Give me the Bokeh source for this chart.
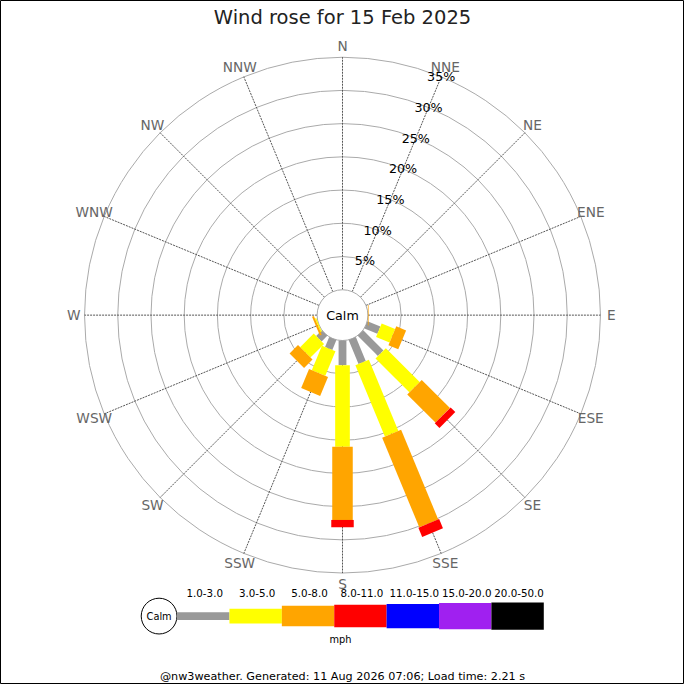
import math
from bokeh.plotting import figure
from bokeh.models import Range1d
from bokeh.core.properties import value
from bokeh.embed import file_html
from bokeh.resources import INLINE

# ---------------- data ----------------
title_text = "Wind rose for 15 Feb 2025"
directions = ["N", "NNE", "NE", "ENE", "E", "ESE", "SE", "SSE",
              "S", "SSW", "SW", "WSW", "W", "WNW", "NW", "NNW"]
speed_bins = ["1.0-3.0", "3.0-5.0", "5.0-8.0", "8.0-11.0",
              "11.0-15.0", "15.0-20.0", "20.0-50.0"]
# percentage of time per direction for each speed bin (mph)
pct_1_3 = [0, 0, 0, 0, 0, 2.1, 4.3, 3.9, 3.7, 1.6, 1.2, 0.0, 0, 0, 0, 0]
pct_3_5 = [0, 0, 0, 0, 0, 2.2, 7.2, 11.6, 12.3, 4.0, 2.9, 0.2, 0, 0, 0, 0]
pct_5_8 = [0, 0, 0, 0, 0.1, 1.6, 6.0, 14.6, 11.0, 3.1, 1.8, 0.3, 0, 0, 0, 0]
pct_8_11 = [0, 0, 0, 0, 0, 0, 1.0, 1.5, 1.1, 0, 0, 0, 0, 0, 0, 0]
pct_11_15 = [0] * 16
pct_15_20 = [0] * 16
pct_20_50 = [0] * 16
ring_ticks = [5, 10, 15, 20, 25, 30, 35]
ring_labels = ["5%", "10%", "15%", "20%", "25%", "30%", "35%"]
unit_label = "mph"
calm_label = "Calm"
footer_text = "@nw3weather. Generated: 11 Aug 2026 07:06; Load time: 2.21 s"

series = [pct_1_3, pct_3_5, pct_5_8, pct_8_11, pct_11_15, pct_15_20, pct_20_50]

# ---------------- style ----------------
colors = ["#999999", "#ffff00", "#ffa500", "#ff0000", "#0000ff", "#a020f0", "#000000"]
bar_widths = [8, 15, 21, 23, 25, 27, 28]
FONT = value("DejaVu Sans")
W = H = 684
S = W / 700.0

CX, CY = 350.0, 700.0 - 322.0
R0 = 26.0          # calm circle radius
K = 34.0 / 5.0     # pixels per percent
RMAX = R0 + K * ring_ticks[-1]


def fs(px):
    return value("%.1fpx" % (px * S))


p = figure(width=W, height=H, x_range=Range1d(0, 700), y_range=Range1d(0, 700),
           output_backend="svg", toolbar_location=None,
           x_axis_location=None, y_axis_location=None, min_border=0)
p.xgrid.visible = False
p.ygrid.visible = False
p.outline_line_color = "black"
p.outline_line_width = 1
p.background_fill_color = "white"
p.border_fill_color = "white"

# rings
p.circle(x=[CX] * len(ring_ticks), y=[CY] * len(ring_ticks),
         radius=[R0 + K * t for t in ring_ticks],
         fill_color=None, line_color="#aaaaaa", line_width=1)

# spokes
angs = [math.radians(22.5 * i) for i in range(len(directions))]
p.segment(x0=[CX + R0 * math.sin(a) for a in angs], y0=[CY + R0 * math.cos(a) for a in angs],
          x1=[CX + RMAX * math.sin(a) for a in angs], y1=[CY + RMAX * math.cos(a) for a in angs],
          line_color="#555555", line_width=1, line_dash="2 1")

# calm circle
p.circle(x=[CX], y=[CY], radius=R0, fill_color="white", line_color="#aaaaaa", line_width=1)
p.text(x=[CX], y=[CY], text=[calm_label], text_font=FONT, text_font_size=fs(13),
       text_align="center", text_baseline="middle", text_color="black")

# bars
cum = [0.0] * len(directions)
for b, vals in enumerate(series):
    xs, ys, ls, ans = [], [], [], []
    for i, v in enumerate(vals):
        if v > 0:
            r_in = R0 + K * cum[i]
            r_out = R0 + K * (cum[i] + v)
            rm = (r_in + r_out) / 2
            a = angs[i]
            xs.append(CX + rm * math.sin(a))
            ys.append(CY + rm * math.cos(a))
            ls.append(r_out - r_in)
            ans.append(math.pi / 2 - a)
        cum[i] += v
    if xs:
        p.rect(x=xs, y=ys, width=ls, height=bar_widths[b], angle=ans,
               fill_color=colors[b], line_color=None)

# percentage labels along NNE spoke
la = math.radians(22.5)
p.text(x=[CX + (R0 + K * t) * math.sin(la) for t in ring_ticks],
       y=[CY + (R0 + K * t) * math.cos(la) for t in ring_ticks],
       text=ring_labels, text_font=FONT, text_font_size=fs(13),
       text_align="center", text_baseline="middle", text_color="black")

# direction labels
RL = 275.0
p.text(x=[CX + RL * math.sin(a) for a in angs], y=[CY + RL * math.cos(a) for a in angs],
       text=directions, text_font=FONT, text_font_size=fs(14),
       text_align="center", text_baseline="middle", text_color="#666666")

# title
p.text(x=[350], y=[700 - 17], text=[title_text], text_font=FONT, text_font_size=fs(20),
       text_align="center", text_baseline="middle", text_color="#222222")

# legend
LY = 700 - 630
lx0 = 180.7
seg = (556.0 - lx0) / len(speed_bins)
p.circle(x=[162.3], y=[LY], radius=18.3, fill_color="white", line_color="black", line_width=1)
p.text(x=[162.3], y=[LY], text=[calm_label], text_font=FONT, text_font_size=fs(10),
       text_align="center", text_baseline="middle", text_color="black")
p.rect(x=[lx0 + seg * (i + 0.5) for i in range(len(speed_bins))], y=[LY] * len(speed_bins),
       width=seg, height=bar_widths, fill_color=colors, line_color=None)
p.text(x=[lx0 + seg * (i + 0.5) + 1.5 for i in range(len(speed_bins))], y=[700 - 606] * len(speed_bins),
       text=speed_bins, text_font=FONT, text_font_size=fs(10.5),
       text_align="center", text_baseline="middle", text_color="black")
p.text(x=[348], y=[700 - 654], text=[unit_label], text_font=FONT, text_font_size=fs(10),
       text_align="center", text_baseline="middle", text_color="black")

# footer
p.text(x=[350], y=[700 - 692], text=[footer_text], text_font=FONT, text_font_size=fs(11.5),
       text_align="center", text_baseline="middle", text_color="black")

open("out.html", "w").write(file_html(p, INLINE))
